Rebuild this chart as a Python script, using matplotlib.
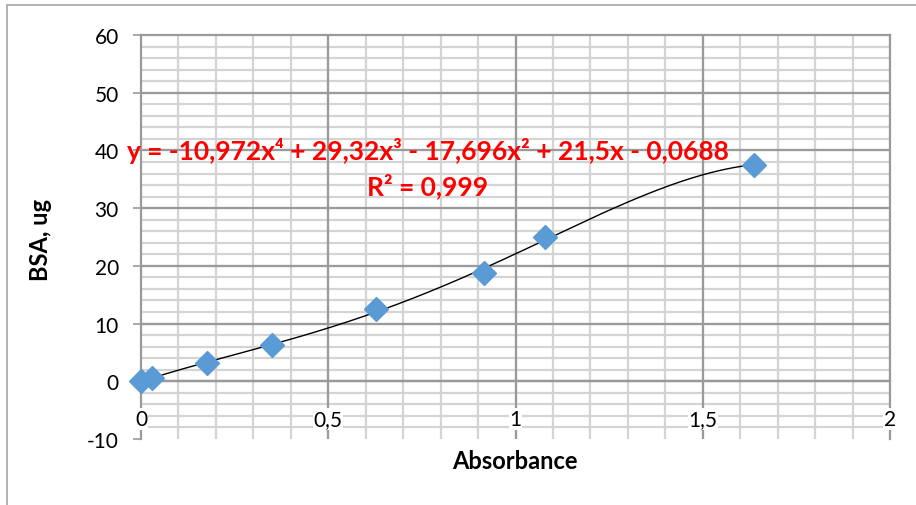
import numpy as np
import matplotlib
matplotlib.use("Agg")
import matplotlib.pyplot as plt
from matplotlib.ticker import MultipleLocator, FuncFormatter
from matplotlib.patches import Rectangle

# Data
absorbance = [0.0, 0.03, 0.175, 0.35, 0.627, 0.916, 1.08, 1.637]
bsa_ug = [0.0, 0.625, 3.125, 6.25, 12.5, 18.75, 25.0, 37.5]
# Trendline coefficients (highest power first), as shown on the chart
poly_coef = [-10.972, 29.32, -17.696, 21.5, -0.0688]
eq_text = "y = -10,972x\u2074 + 29,32x\u00b3 - 17,696x\u00b2 + 21,5x - 0,0688"
r2_text = "R\u00b2 = 0,999"
x_label = "Absorbance"
y_label = "BSA, ug"

plt.rcParams['font.family'] = ['Lato', 'DejaVu Sans']

fig = plt.figure(figsize=(9.16, 5.06), dpi=100)
ax = fig.add_axes([141/916, 1-440/506, (890-141)/916, (440-36)/506])

# outer chart border
fig.patches.append(Rectangle((7/916, -0.1), 1.2, 1-6/506+0.1, transform=fig.transFigure,
                             fill=False, edgecolor='#a6a6a6', lw=1.2, zorder=0))

ax.set_xlim(0, 2)
ax.set_ylim(-10, 60)
ax.xaxis.set_major_locator(MultipleLocator(0.5))
ax.yaxis.set_major_locator(MultipleLocator(10))

fmt = FuncFormatter(lambda v, p: ('%g' % v).replace('.', ','))
ax.xaxis.set_major_formatter(fmt)
ax.yaxis.set_major_formatter(fmt)

# gridlines drawn beneath everything
major_c, minor_c = '#9a9a9a', '#d4d4d4'
for v in MultipleLocator(0.1).tick_values(0, 2):
    if 0 < v < 2.0001:
        ax.axvline(v, color=minor_c, lw=1.6, zorder=0.1)
for v in MultipleLocator(2).tick_values(-10, 60):
    if -10 < v < 60:
        ax.axhline(v, color=minor_c, lw=1.6, zorder=0.1)
for v in MultipleLocator(0.5).tick_values(0, 2):
    if 0 < v < 2:
        ax.axvline(v, color=major_c, lw=1.6, zorder=0.2)
for v in MultipleLocator(10).tick_values(-10, 60):
    if -10 < v < 60:
        ax.axhline(v, color=major_c, lw=1.6, zorder=0.2)

for s in ['top', 'right', 'left']:
    ax.spines[s].set_color(major_c)
    ax.spines[s].set_linewidth(1.6)
ax.spines['bottom'].set_position(('data', 0))
ax.spines['bottom'].set_color(major_c)
ax.spines['bottom'].set_linewidth(1.6)

ax.tick_params(axis='y', which='major', direction='out', length=6, color=major_c,
               labelsize=15, pad=10, width=1.2)
ax.tick_params(axis='x', which='major', direction='out', length=0, labelsize=15, pad=20)
ax.xaxis.set_zorder(3.5)
for lbl in ax.get_xticklabels():
    lbl.set_bbox(dict(facecolor='white', edgecolor='none', pad=0.5))

# data and trendline
xs = np.linspace(min(absorbance), max(absorbance), 300)
ax.plot(xs, np.polyval(poly_coef, xs), color='black', lw=1.0, zorder=3)
ax.plot(absorbance, bsa_ug, linestyle='none', marker='D', ms=12, color='#5b9bd5',
        markeredgecolor='#5b9bd5', zorder=4, clip_on=False)

ax.text(0.765, 40, eq_text, color='red', fontsize=19, fontweight='bold', ha='center',
        va='center', zorder=5)
ax.text(0.765, 34.0, r2_text, color='red', fontsize=19, fontweight='bold', ha='center',
        va='center', zorder=5)

fig.text(515/916, 1-462/506, x_label, ha='center', va='center', fontsize=17, fontweight='bold')
fig.text(40/916, 1-240/506, y_label, ha='center', va='center', fontsize=17,
         fontweight='bold', rotation=90)

fig.savefig('out.png', dpi=100)
